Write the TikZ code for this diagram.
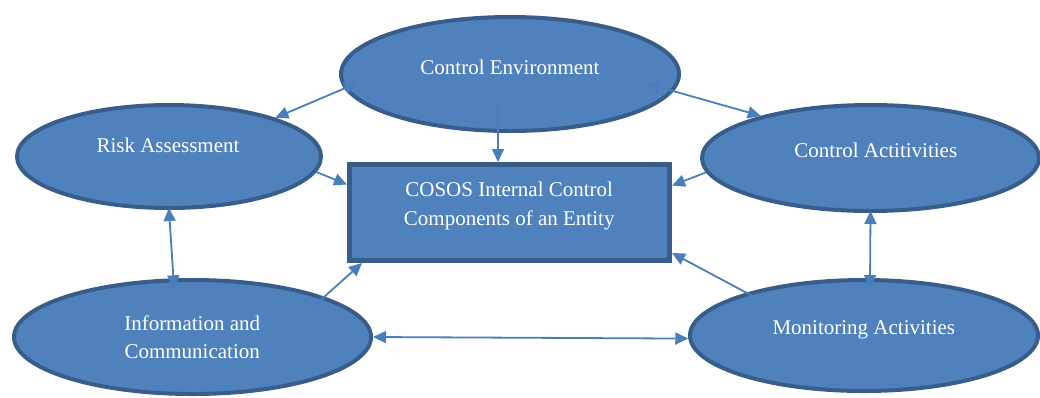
\documentclass[tikz,border=0pt]{standalone}
\usepackage{fontspec}
\setmainfont{Liberation Serif}
\usetikzlibrary{shapes.geometric,arrows.meta}
\definecolor{boxfill}{HTML}{4F81BD}
\definecolor{boxedge}{HTML}{385D8A}
\definecolor{linkblue}{HTML}{4A7EBB}
\tikzset{
  comp/.style={ellipse, draw=boxedge, line width=4pt, fill=boxfill, inner sep=0pt},
  core/.style={rectangle, draw=boxedge, line width=5pt, fill=boxfill, inner sep=0pt},
  caption/.style={text=white, font=\fontsize{21}{28}\selectfont, anchor=base, inner sep=0pt},
  tip/.tip={Triangle[length=13pt,width=12pt]},
  link/.style={draw=linkblue, line width=1.8pt, -tip},
  biglink/.style={link, tip-tip},
}
\begin{document}
\begin{tikzpicture}[x=1pt,y=-1pt]
  \useasboundingbox (0,0) rectangle (1040,397);

  % the five components and the entity box
  \node[comp, minimum width=338pt, minimum height=114pt] (ce)   at (510,74)      {};
  \node[comp, minimum width=304pt, minimum height=103pt] (ra)   at (169,156.5)   {};
  \node[comp, minimum width=337pt, minimum height=106pt] (ca)   at (870.5,158)   {};
  \node[comp, minimum width=357pt, minimum height=114pt] (info) at (192.5,337)   {};
  \node[comp, minimum width=348pt, minimum height=111pt] (mon)  at (864,335.5)   {};
  \node[core, minimum width=320pt, minimum height=96pt]  (core) at (509.5,212.5) {};

  % connectors
  \draw[biglink, shorten <=-14pt] (ce.185) -- (ra.20);
  \draw[biglink, shorten <=-28pt] (ce.354) -- (ca.159);
  \draw[link] ([xshift=-12pt,yshift=28pt]ce.south) -- ([xshift=-11.5pt]core.north);
  \draw[link] (ra.354) -- ([yshift=28pt]core.west);
  \draw[link] (ca.185) -- ([yshift=27pt]core.east);
  \draw[link, shorten <=-15pt] (info.17) -- ([xshift=15pt]core.south west);
  \draw[link, shorten <=-8pt] (mon.160) -- ([yshift=10pt]core.south east);
  \draw[biglink, shorten <=-2pt, shorten >=-10pt] (ra.270) -- (info.108);
  \draw[biglink, shorten <=-2pt, shorten >=-10pt] (ca.270) -- (mon.84);
  \draw[biglink] (info.east) -- (mon.181);

  % labels
  \node[caption] (ce-text)    at (510,74)      {Control Environment};
  \node[caption] (ra-text)    at (168,152.3)   {Risk Assessment};
  \node[caption] (ca-text)    at (875.8,157.3) {Control Actitivities};
  \node[caption] (core-text1) at (509.2,196.7) {COSOS Internal Control};
  \node[caption] (core-text2) at (509.2,225)   {Components of an Entity};
  \node[caption] (info-text1) at (192.2,330)   {Information and};
  \node[caption] (info-text2) at (192.2,358.3) {Communication};
  \node[caption] (mon-text)   at (863.8,334)   {Monitoring Activities};
\end{tikzpicture}
\end{document}
